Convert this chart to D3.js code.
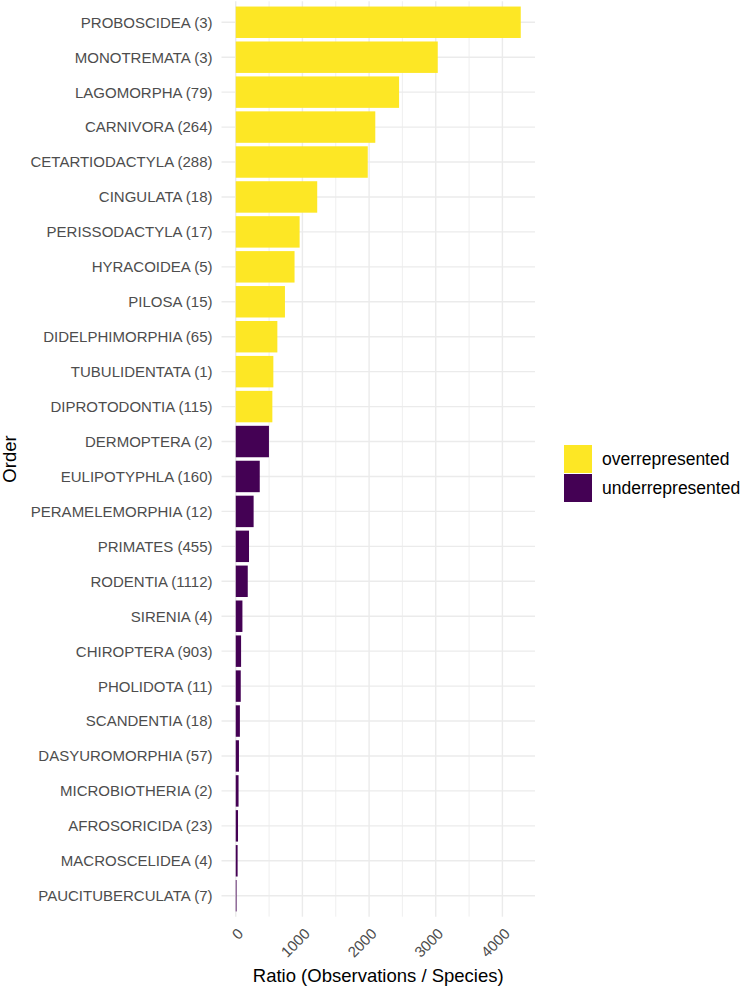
<!DOCTYPE html>
<html>
<head>
<meta charset="utf-8">
<script src="https://cdn.jsdelivr.net/npm/d3@7"></script>
<style>
  body { margin: 0; background: #fff; }
  text { font-family: "Liberation Sans", Arial, sans-serif; }
</style>
</head>
<body>
<svg id="chart" width="747" height="986"></svg>
<script>
// data
const orders = ["PROBOSCIDEA", "MONOTREMATA", "LAGOMORPHA", "CARNIVORA", "CETARTIODACTYLA",
  "CINGULATA", "PERISSODACTYLA", "HYRACOIDEA", "PILOSA", "DIDELPHIMORPHIA", "TUBULIDENTATA",
  "DIPROTODONTIA", "DERMOPTERA", "EULIPOTYPHLA", "PERAMELEMORPHIA", "PRIMATES", "RODENTIA",
  "SIRENIA", "CHIROPTERA", "PHOLIDOTA", "SCANDENTIA", "DASYUROMORPHIA", "MICROBIOTHERIA",
  "AFROSORICIDA", "MACROSCELIDEA", "PAUCITUBERCULATA"]
const species = [3, 3, 79, 264, 288, 18, 17, 5, 15, 65, 1, 115, 2, 160, 12, 455, 1112, 4, 903, 11, 18, 57, 2, 23, 4, 7]
const ratios = [4275, 3030, 2450, 2093, 1980, 1222, 958, 882, 738, 624, 564, 549, 498, 360, 268, 199, 180,
  100, 80, 75, 62, 48, 42, 34, 28, 12]
const groups = ["overrepresented", "overrepresented", "overrepresented", "overrepresented", "overrepresented",
  "overrepresented", "overrepresented", "overrepresented", "overrepresented", "overrepresented",
  "overrepresented", "overrepresented", "underrepresented", "underrepresented", "underrepresented",
  "underrepresented", "underrepresented", "underrepresented", "underrepresented", "underrepresented",
  "underrepresented", "underrepresented", "underrepresented", "underrepresented", "underrepresented",
  "underrepresented"]
const legendKeys = ["overrepresented", "underrepresented"]
const xTicks = [0, 1000, 2000, 3000, 4000]
const xMinor = [500, 1500, 2500, 3500]

const labels = orders.map((o, i) => o + " (" + species[i] + ")")

const svg = d3.select("#chart")
const pLeft = 221.5, pRight = 535, pTop = 1.3, pBottom = 916.7

const maxV = d3.max(ratios)
const x = d3.scaleLinear()
  .domain([-0.05 * maxV, 1.05 * maxV])
  .range([pLeft, pRight])

const y = d3.scaleBand()
  .domain(labels)
  .range([pTop, pBottom])
  .paddingInner(0.1)
  .paddingOuter(0.15)

const color = d3.scaleOrdinal()
  .domain(legendKeys)
  .range(["#FDE725", "#440154"])

//---------------- grid ----------------
const grid = svg.append("g")
grid.selectAll(".minor").data(xMinor).join("line")
  .attr("x1", d => x(d)).attr("x2", d => x(d))
  .attr("y1", pTop).attr("y2", pBottom)
  .attr("stroke", "#EBEBEB").attr("stroke-width", 0.8)
grid.selectAll(".major").data(xTicks).join("line")
  .attr("x1", d => x(d)).attr("x2", d => x(d))
  .attr("y1", pTop).attr("y2", pBottom)
  .attr("stroke", "#EBEBEB").attr("stroke-width", 1.4)
grid.selectAll(".hline").data(labels).join("line")
  .attr("x1", pLeft).attr("x2", pRight)
  .attr("y1", d => y(d) + y.bandwidth() / 2).attr("y2", d => y(d) + y.bandwidth() / 2)
  .attr("stroke", "#EBEBEB").attr("stroke-width", 1.4)

//---------------- bars ----------------
svg.append("g").selectAll("rect").data(ratios).join("rect")
  .attr("x", x(0))
  .attr("y", (d, i) => y(labels[i]))
  .attr("width", d => x(d) - x(0))
  .attr("height", y.bandwidth())
  .attr("fill", (d, i) => color(groups[i]))

//---------------- axes ----------------
const yAxis = svg.append("g")
  .attr("transform", "translate(" + (pLeft - 9) + ",0)")
  .call(d3.axisLeft(y).tickSize(0).tickPadding(0))
yAxis.select(".domain").remove()
yAxis.selectAll("text")
  .attr("fill", "#4D4D4D")
  .attr("font-size", "15px")
  .attr("dy", "0.36em")

const xAxis = svg.append("g")
  .attr("transform", "translate(0," + pBottom + ")")
  .call(d3.axisBottom(x).tickValues(xTicks).tickSize(0).tickFormat(d3.format("d")))
xAxis.select(".domain").remove()
xAxis.selectAll("text")
  .attr("fill", "#4D4D4D")
  .attr("font-size", "15px")
  .attr("text-anchor", "end")
  .attr("y", 0)
  .attr("dy", 0)
  .attr("transform", "translate(8,18) rotate(-45)")

svg.append("text")
  .attr("x", (pLeft + pRight) / 2)
  .attr("y", 982)
  .attr("text-anchor", "middle")
  .attr("font-size", "18.5px")
  .attr("fill", "#000")
  .text("Ratio (Observations / Species)")

svg.append("text")
  .attr("transform", "translate(16," + ((pTop + pBottom) / 2) + ") rotate(-90)")
  .attr("text-anchor", "middle")
  .attr("font-size", "18.5px")
  .attr("fill", "#000")
  .text("Order")

//---------------- legend ----------------
const legend = svg.append("g").attr("transform", "translate(564,445)")
legend.selectAll("rect").data(legendKeys).join("rect")
  .attr("x", 0).attr("y", (d, i) => i * 29)
  .attr("width", 28).attr("height", 28)
  .attr("fill", d => color(d))
legend.selectAll("text").data(legendKeys).join("text")
  .attr("x", 38).attr("y", (d, i) => i * 29 + 14)
  .attr("dy", "0.36em")
  .attr("font-size", "17.5px")
  .attr("fill", "#000")
  .text(d => d)
</script>
</body>
</html>
